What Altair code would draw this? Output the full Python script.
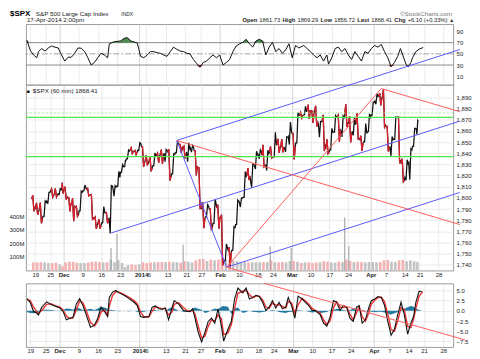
import json
import altair as alt
import pandas as pd

# ---------------- data ----------------
day_dates = [
    "2013-11-18", "2013-11-19", "2013-11-20", "2013-11-21", "2013-11-22", "2013-11-25", "2013-11-26", "2013-11-27", "2013-11-29",
    "2013-12-02", "2013-12-03", "2013-12-04", "2013-12-05", "2013-12-06", "2013-12-09", "2013-12-10", "2013-12-11", "2013-12-12",
    "2013-12-13", "2013-12-16", "2013-12-17", "2013-12-18", "2013-12-19", "2013-12-20", "2013-12-23", "2013-12-24", "2013-12-26",
    "2013-12-27", "2013-12-30", "2013-12-31",
    "2014-01-02", "2014-01-03", "2014-01-06", "2014-01-07", "2014-01-08", "2014-01-09", "2014-01-10", "2014-01-13", "2014-01-14",
    "2014-01-15", "2014-01-16", "2014-01-17", "2014-01-21", "2014-01-22", "2014-01-23", "2014-01-24", "2014-01-27", "2014-01-28",
    "2014-01-29", "2014-01-30", "2014-01-31",
    "2014-02-03", "2014-02-04", "2014-02-05", "2014-02-06", "2014-02-07", "2014-02-10", "2014-02-11", "2014-02-12", "2014-02-13",
    "2014-02-14", "2014-02-18", "2014-02-19", "2014-02-20", "2014-02-21", "2014-02-24", "2014-02-25", "2014-02-26", "2014-02-27",
    "2014-02-28",
    "2014-03-03", "2014-03-04", "2014-03-05", "2014-03-06", "2014-03-07", "2014-03-10", "2014-03-11", "2014-03-12", "2014-03-13",
    "2014-03-14", "2014-03-17", "2014-03-18", "2014-03-19", "2014-03-20", "2014-03-21", "2014-03-24", "2014-03-25", "2014-03-26",
    "2014-03-27", "2014-03-28", "2014-03-31",
    "2014-04-01", "2014-04-02", "2014-04-03", "2014-04-04", "2014-04-07", "2014-04-08", "2014-04-09", "2014-04-10", "2014-04-11",
    "2014-04-14", "2014-04-15", "2014-04-16", "2014-04-17",
]
half_days = ["2013-11-29", "2013-12-24"]
last_day_bars = 5

opens = [1798.8, 1790.8, 1789.6, 1783.5, 1797.0, 1806.3, 1802.9, 1803.5, 1808.0,
         1806.6, 1800.1, 1793.6, 1791.8, 1788.4, 1806.2, 1807.6, 1802.8, 1781.7, 1777.0, 1777.5, 1786.5, 1781.5, 1809.0, 1810.4,
         1822.9, 1828.0, 1834.9, 1842.9, 1841.5, 1842.6,
         1845.9, 1833.2, 1832.3, 1828.7, 1837.9, 1839.0, 1840.1, 1841.3, 1821.4, 1840.5, 1848.0, 1844.2, 1841.0, 1844.7, 1842.3,
         1827.0, 1791.0, 1783.0, 1790.2, 1777.2, 1790.9,
         1782.7, 1743.8, 1753.4, 1753.0, 1776.0, 1796.2, 1800.5, 1820.1, 1814.8, 1828.5, 1839.0, 1838.2, 1829.2, 1841.1, 1836.8,
         1847.7, 1845.8, 1844.9, 1855.1,
         1857.7, 1849.2, 1874.0, 1874.2, 1878.5, 1877.9, 1878.3, 1866.2, 1869.1, 1845.1, 1842.8, 1858.9, 1872.3, 1860.1, 1874.5,
         1867.7, 1859.5, 1867.1, 1852.1, 1850.1, 1859.2,
         1874.0, 1886.6, 1891.4, 1890.3, 1863.9, 1845.5, 1852.6, 1872.3, 1830.7, 1818.2, 1831.5, 1846.0, 1861.7]
highs = [1802.3, 1795.5, 1795.7, 1797.2, 1804.8, 1808.1, 1808.4, 1808.3, 1813.6,
         1810.0, 1800.1, 1799.8, 1792.6, 1806.0, 1811.5, 1808.5, 1803.0, 1782.9, 1780.9, 1792.2, 1786.8, 1811.1, 1810.9, 1823.8,
         1829.8, 1833.3, 1842.8, 1844.9, 1842.5, 1849.4,
         1845.9, 1838.2, 1837.2, 1840.1, 1840.0, 1843.2, 1843.4, 1843.5, 1839.3, 1850.8, 1848.0, 1846.0, 1849.3, 1846.9, 1842.3,
         1827.0, 1796.0, 1793.9, 1790.2, 1798.8, 1793.9,
         1784.8, 1758.7, 1755.8, 1774.1, 1798.0, 1799.9, 1823.5, 1826.6, 1830.3, 1841.7, 1842.9, 1847.5, 1842.8, 1846.1, 1858.7,
         1852.9, 1852.7, 1854.5, 1867.9,
         1857.7, 1876.2, 1876.5, 1881.9, 1883.6, 1877.9, 1882.4, 1868.4, 1874.4, 1852.4, 1862.3, 1873.8, 1874.1, 1873.5, 1884.0,
         1873.3, 1871.9, 1875.9, 1855.6, 1866.6, 1875.2,
         1885.8, 1893.2, 1893.8, 1897.3, 1864.0, 1855.0, 1872.4, 1872.5, 1835.1, 1834.2, 1844.0, 1862.3, 1869.3]
lows = [1788.0, 1784.7, 1777.2, 1783.5, 1794.7, 1800.6, 1800.8, 1802.8, 1803.9,
        1798.6, 1787.9, 1779.1, 1783.4, 1788.4, 1806.2, 1801.8, 1780.1, 1772.3, 1772.5, 1777.5, 1777.2, 1768.0, 1801.4, 1810.3,
        1822.9, 1828.0, 1834.9, 1839.8, 1838.8, 1842.4,
        1827.7, 1829.1, 1823.7, 1828.7, 1831.4, 1830.4, 1832.4, 1815.5, 1821.4, 1840.5, 1840.3, 1835.2, 1832.4, 1840.9, 1820.1,
        1790.3, 1772.9, 1783.0, 1771.0, 1777.2, 1772.3,
        1739.7, 1743.8, 1737.9, 1753.0, 1776.0, 1791.8, 1800.5, 1816.0, 1809.2, 1825.9, 1835.0, 1827.7, 1824.6, 1835.6, 1836.8,
        1840.2, 1840.7, 1841.1, 1847.7,
        1834.4, 1849.2, 1871.6, 1874.2, 1870.6, 1867.0, 1863.9, 1854.4, 1841.9, 1839.6, 1842.8, 1858.9, 1850.3, 1854.6, 1863.5,
        1849.7, 1856.0, 1852.6, 1842.1, 1850.1, 1859.2,
        1874.0, 1883.8, 1882.7, 1863.3, 1841.5, 1837.5, 1852.4, 1831.9, 1814.4, 1815.8, 1816.3, 1846.0, 1856.7]
closes = [1791.5, 1787.9, 1781.4, 1795.9, 1804.8, 1802.5, 1802.8, 1807.2, 1805.8,
          1800.9, 1795.2, 1792.3, 1785.0, 1805.1, 1808.4, 1802.6, 1782.2, 1775.5, 1775.3, 1786.5, 1781.0, 1810.7, 1809.6, 1818.3,
          1827.9, 1833.3, 1842.0, 1841.4, 1841.1, 1848.4,
          1832.0, 1831.4, 1826.8, 1837.9, 1837.5, 1838.1, 1842.4, 1819.2, 1838.9, 1848.4, 1845.9, 1838.7, 1843.8, 1844.9, 1828.5,
          1790.3, 1781.6, 1792.5, 1774.2, 1794.2, 1782.6,
          1741.9, 1755.2, 1751.6, 1773.4, 1797.0, 1799.8, 1819.3, 1819.3, 1829.8, 1838.6, 1840.8, 1828.8, 1839.8, 1836.3, 1847.6,
          1845.1, 1845.2, 1854.3, 1859.5,
          1845.7, 1873.9, 1873.8, 1877.0, 1878.0, 1877.2, 1867.6, 1868.2, 1846.3, 1841.1, 1858.8, 1872.3, 1860.8, 1872.0, 1866.5,
          1857.4, 1865.6, 1852.6, 1849.0, 1857.6, 1872.3,
          1885.5, 1890.9, 1888.8, 1865.1, 1845.0, 1852.0, 1872.2, 1833.1, 1815.7, 1830.6, 1843.0, 1862.3, 1868.4]
# typical hourly volume (millions) per session
volume_m = [60, 60, 62, 60, 55, 55, 58, 45, 30,
            60, 65, 65, 58, 55, 55, 58, 65, 65, 62, 60, 60, 80, 62, 75, 55, 25, 40, 45, 40, 45,
            60, 55, 60, 60, 62, 62, 62, 65, 62, 62, 58, 70, 65, 60, 75, 85, 85, 70, 80, 75, 80,
            90, 80, 80, 72, 70, 62, 65, 60, 60, 60, 62, 62, 62, 75, 62, 60, 62, 60, 68,
            70, 65, 55, 60, 60, 55, 60, 60, 68, 65, 60, 58, 65, 62, 80, 70, 62, 65, 62, 60, 62,
            62, 60, 62, 75, 78, 65, 62, 75, 78, 68, 75, 68, 62]
spike_pos = [141, 152, 275, 437, 476, 575.5, 583]
spike_m = [166, 273, 190, 180, 166, 393, 180]

rsi_pos = [-6.3, -0.3, 5.7, 11.7, 14.7, 20.6, 26.6, 32.6, 38.6, 44.6, 50.6, 56.6, 62.5, 68.5, 74.5, 80.5, 86.5, 92.5,
           98.5, 104.5, 110.4, 116.4, 122.4, 128.4, 134.4, 140.4, 143.4, 152.3, 164.3, 170.3, 176.3, 182.3, 194.2,
           200.2, 206.2, 212.2, 218.2, 224.2, 230.2, 236.2, 242.1, 248.1, 254.1, 260.1, 266.1, 272.1, 278.1, 284.0,
           290.0, 296.0, 302.0, 308.0, 314.0, 320.0, 326.0, 331.9, 337.9, 343.9, 349.9, 355.9, 361.9, 367.9, 373.8,
           379.8, 385.8, 391.8, 397.8, 403.8, 409.8, 415.8, 421.8, 427.7, 433.7, 439.7, 445.7, 451.7, 457.7, 463.7,
           469.6, 475.6, 481.6, 487.6, 496.6, 502.6, 508.6, 514.5, 520.5, 526.5, 532.5, 538.5, 541.5, 547.5, 553.5,
           559.4, 565.4, 571.4, 577.4, 583.4, 589.4, 595.4, 601.4, 607.3, 613.3, 619.3, 625.3, 631.3, 637.3, 643.3,
           649.2, 655.2, 661.2, 667.2, 672.0, 676.2, 682.2, 686.4, 691.1, 694.1, 700.1, 706.1, 712.1, 713.0]
rsi_val = [74.5, 56.7, 48, 43, 54, 59.5, 55, 60.5, 64, 62, 60.5, 48, 37, 44, 44, 51, 60.5, 60,
           54, 43, 30, 34.5, 43, 51, 48, 43, 67.8, 71.7, 73, 77.8, 79, 73, 69.5,
           45.5, 43, 48, 54, 54, 52, 51, 48, 45.5, 54, 62, 58, 55, 54, 51,
           50, 40, 33, 26, 34.5, 37, 43, 48, 43, 48, 30, 34.5, 40, 54, 64,
           67.8, 70.5, 76, 68, 62, 73, 76, 73, 48, 62, 70.5, 54, 59.5, 51, 57,
           68, 43, 65, 60.5, 65, 59.5, 54, 48, 43, 48, 37, 48, 31.7, 43, 59.5,
           62, 54, 59.5, 48, 40, 54, 45.5, 37, 54, 51, 59.5, 65, 62, 66.7, 54,
           43, 27, 34.5, 45.5, 59.5, 48, 31.7, 27, 34.5, 43, 54, 58.5, 60.5, 62]

macd_pos = [-6.3, -0.3, 5.7, 11.7, 14.7, 20.6, 29.6, 38.6, 44.6, 53.6,
            59.6, 65.5, 71.5, 77.5, 83.5, 89.5, 95.5, 101.5, 109.2, 116.4,
            122.4, 128.4, 134.4, 140.4, 143.4, 149.4, 155.3, 161.3, 170.3, 179.3,
            188.3, 194.2, 200.2, 206.2, 215.2, 221.2, 227.2, 233.2, 239.2, 245.1,
            251.1, 257.1, 261.3, 269.1, 278.1, 284.0, 290.0, 294.8, 299.0, 305.0,
            311.0, 317.0, 323.0, 329.0, 334.9, 340.9, 346.9, 351.1, 358.9, 364.9,
            370.9, 376.9, 385.8, 391.8, 397.8, 403.8, 409.8, 415.8, 421.8, 427.7,
            433.7, 439.7, 445.7, 451.7, 457.7, 463.7, 468.4, 474.4, 480.4, 486.4,
            493.6, 499.6, 505.6, 511.6, 517.5, 526.5, 532.5, 538.5, 544.5, 550.5,
            556.5, 562.4, 568.4, 574.4, 580.4, 586.4, 592.4, 597.2, 602.6, 608.5,
            614.5, 619.3, 625.3, 631.3, 637.3, 643.3, 649.2, 655.2, 661.2, 667.2,
            673.2, 679.2, 685.2, 691.1, 696.0, 700.1, 706.1, 712.1]
macd_val = [3.0, 2.1, -0.1, -0.6, -1.0, 0.9, 2.2, 1.5, 1.2, 0.7,
            -0.2, -2.2, -1.8, -1.6, 1.7, 3.0, 1.3, -1.0, -4.0, -3.5,
            -1.8, 0.9, -0.1, -1.4, 3.3, 4.6, 5.0, 4.4, 3.8, 3.0,
            2.1, 1.3, -1.4, -1.6, -1.4, 0.9, 1.2, 0.5, 0.4, 0.7,
            -2.2, 0.7, 2.5, 1.7, 0.1, -0.1, -0.2, 0.5, -1.8, -5.3,
            -7.6, -5.3, -2.6, -1.8, -3.0, 0.5, -3.7, -7.4, -4.5, -2.6,
            2.9, 5.6, 4.4, 5.6, 2.9, 3.3, 3.8, 3.5, 2.1, 0.1,
            0.9, 2.5, 0.7, 2.1, 0.5, 0.9, 3.3, 1.3, -1.8, 3.6,
            2.9, 2.1, 1.3, 0.1, 0.1, -1.0, -3.0, -3.7, -1.4, 2.5,
            2.1, 0.1, 1.3, 0.9, -1.8, -2.6, 0.9, 1.3, -3.0, -2.2,
            0.7, 2.5, 2.9, 3.5, 3.3, 1.3, -2.6, -6.0, -4.5, -1.0,
            2.1, -1.0, -5.7, -3.0, -1.4, 2.1, 4.8, 4.6]
signal_val = [2.8, 2.5, 1.0, -0.2, -0.6, 0.1, 1.6, 1.7, 1.3, 0.9,
              0.2, -1.3, -1.9, -1.7, 0.2, 2.4, 2.0, 0.0, -2.8, -3.7,
              -2.6, -0.3, 0.2, -0.9, 1.2, 3.8, 4.7, 4.6, 4.0, 3.3,
              2.5, 1.7, -0.3, -1.4, -1.5, -0.1, 1.0, 0.8, 0.5, 0.6,
              -1.0, -0.3, 1.6, 2.0, 0.8, 0.1, -0.1, 0.2, -0.8, -3.8,
              -6.6, -6.2, -3.8, -2.2, -2.5, -1.0, -1.9, -5.8, -5.4, -3.4,
              0.6, 4.3, 4.8, 5.0, 4.0, 3.2, 3.6, 3.6, 2.7, 1.0,
              0.6, 1.9, 1.4, 1.5, 1.1, 0.7, 2.3, 1.9, -0.6, 1.5,
              3.1, 2.4, 1.7, 0.6, 0.1, -0.6, -2.2, -3.4, -2.4, 0.8,
              2.2, 0.9, 0.8, 1.0, -0.8, -2.2, -0.5, 1.0, -1.4, -2.5,
              -0.6, 1.7, 2.6, 3.2, 3.4, 2.2, -0.8, -4.6, -5.0, -2.5,
              0.8, 0.3, -3.8, -4.1, -2.0, 0.6, 3.6, 4.6]
hist_val = [-0.3, -0.5, -0.6, -0.4, -0.2, 0.3, 0.3, 0.2, 0.1, 0.1,
            0.2, 0.6, 0.5, 0.3, 0.8, 0.6, 0.2, 0.3, 0.5, 0.2,
            0.6, 1.0, 0.8, 0.5, 0.3, 0.2, 0.1, -0.1, 0.1, -0.1,
            0.1, -0.2, -0.3, -0.2, 0.1, 0.3, 0.2, 0.1, 0.1, -0.1,
            0.5, 0.9, 0.6, 0.1, -0.2, -0.3, -0.1, 0.6, 0.8, 0.5,
            0.3, -0.5, -0.3, 0.2, 0.6, 0.4, 1.0, 1.2, 1.0, -0.8,
            0.6, 0.8, -0.5, -0.3, 0.1, -0.2, -0.3, -0.4, -0.3, -0.1,
            0.1, 0.2, 0.1, -0.3, -0.4, -0.5, -0.3, -0.2, -0.1, 0.2,
            0.1, 0.0, -0.2, -0.4, -0.3, -0.5, -0.4, -0.3, 0.2, 0.3,
            0.5, 0.4, 0.2, 0.1, 0.2, 0.6, 0.5, 0.3, 0.2, 0.1,
            0.0, -0.2, -0.3, -0.2, -0.2, -0.4, -0.7, -0.9, -0.6, -0.3,
            0.2, 0.5, 0.9, 1.2, 1.0, 0.6, 0.2, 0.0]

# axis ticks (position in hourly bars since 19-Nov open)
tick_pos = [0, 28, 53, 88, 123, 158, 197, 211, 246, 281, 309, 344, 379, 414, 442, 477, 512, 547, 582, 624, 652, 687, 715, 750]
tick_text = ["19", "25", "Dec", "9", "16", "23", "2014", "6", "13", "21", "27", "Feb", "10", "18", "24", "Mar", "10", "17",
             "24", "Apr", "7", "14", "21", "28"]
month_ticks = [53, 197, 344, 477, 624]
price_ticks = [1740, 1750, 1760, 1770, 1780, 1790, 1800, 1810, 1820, 1830, 1840, 1850, 1860, 1870, 1880, 1890]
rsi_ticks = [10, 30, 50, 70, 90]
macd_ticks = [5.0, 2.5, 0.0, -2.5, -5.0, -7.5]
vol_ticks = [100, 200, 300, 400]

green_levels = [1872, 1837]
green_dashed_levels = [1876]

# trend lines on the price panel: (bar position, price) end points
tl_id = ["b1", "b2", "b3", "b4", "rA", "rB", "rC", "rD"]
tl_color = ["#5a5aff", "#5a5aff", "#5a5aff", "#5a5aff", "#ff5e5e", "#ff5e5e", "#ff5e5e", "#ff5e5e"]
tl_x1 = [263.1, 141.5, 356.0, 263.1, 356.0, 263.1, 643.3, 356.0]
tl_p1 = [1851.4, 1768.6, 1737.9, 1851.4, 1737.9, 1851.4, 1897.9, 1737.9]
tl_x2 = [789.3, 789.3, 789.3, 356.0, 643.3, 789.3, 789.3, 422.0]
tl_p2 = [1932.8, 1868.7, 1804.8, 1737.9, 1897.9, 1776.1, 1877.2, 1728.5]
# continuation of the lower red fork line across the lower panel: (bar position, value)
rd_x = [424.8, 789.3]
rd_v = [6.74, -7.1]

# ---------------- tables ----------------
bars = [4 if d in half_days else 7 for d in day_dates]
bars[-1] = last_day_bars
starts = []
s = -7
for n in bars:
    starts.append(s)
    s += n

path_rows = []
vol_rows = []
for i, (st, n, o, h, l, c, v) in enumerate(zip(starts, bars, opens, highs, lows, closes, volume_m)):
    up = c >= o
    m1, m2 = (l, h) if up else (h, l)
    for pos, val in ((st + 0.5, o), (st + n * 0.35, m1), (st + n * 0.65, m2), (st + n - 0.5, c)):
        path_rows.append({"pos": pos, "p": val, "day": i, "down": (not up), "ord": len(path_rows)})
    vol_rows.append({"pos": st + n / 2.0, "vol": v, "col": "#b8b8b8" if up else "#f2a3a3"})
path_df = pd.DataFrame(path_rows)
vol_df = pd.DataFrame(vol_rows)
spike_df = pd.DataFrame({"pos": spike_pos, "vol": spike_m})
rsi_df = pd.DataFrame({"pos": rsi_pos, "v": rsi_val})
macd_df = pd.DataFrame({"pos": macd_pos, "m": macd_val, "s": signal_val, "h": hist_val})
tl_rows = []
for k in range(len(tl_id)):
    tl_rows.append({"id": tl_id[k], "col": tl_color[k], "pos": tl_x1[k], "p": tl_p1[k]})
    tl_rows.append({"id": tl_id[k], "col": tl_color[k], "pos": tl_x2[k], "p": tl_p2[k]})
tl_df = pd.DataFrame(tl_rows)
rd_df = pd.DataFrame({"pos": rd_x, "m": rd_v})

# ---------------- styling ----------------
W = 430
FONT = "Liberation Sans"
xs = alt.Scale(domain=[-8.1, 767.8], nice=False, zero=False)
month_test = "indexof(%s, datum.value) >= 0" % json.dumps(month_ticks)
grid_col = {"condition": {"test": month_test, "value": "#c4c4c4"}, "value": "#e2e2e2"}
label_expr = "%s[indexof(%s, datum.value)]" % (json.dumps(tick_text), json.dumps(tick_pos))


def xaxis(show):
    return alt.Axis(values=tick_pos, labels=show, labelExpr=label_expr, labelFontSize=6,
                    labelFontWeight={"condition": {"test": month_test, "value": "bold"}, "value": "normal"},
                    ticks=False, domain=False, grid=True, gridColor=grid_col, gridWidth=0.7,
                    labelPadding=1, labelOverlap=False, labelFlush=False, labelBound=False, title=None)


def X(show):
    return alt.X("pos:Q", scale=xs, axis=xaxis(show))


def txt(s, x, y, size=6.0, weight="normal", color="#222222", align="left"):
    return alt.Chart(pd.DataFrame({"t": [s]})).mark_text(
        align=align, baseline="alphabetic", fontSize=size, fontWeight=weight, color=color, font=FONT
    ).encode(x=alt.value(x), y=alt.value(y), text="t:N")


# ---------------- RSI panel ----------------
rsi_scale = alt.Scale(domain=[-5.0, 103.3], nice=False, zero=False)
rsi_axis = alt.Axis(orient="right", values=rsi_ticks, labelFontSize=6, ticks=False, domain=False, grid=False,
                    labelPadding=3, title=None)


def Yr(f):
    return alt.Y(f, scale=rsi_scale, axis=rsi_axis)


rsi_lines = alt.Chart(pd.DataFrame({"v": [70, 30]})).mark_rule(color="#8a8a8a", strokeWidth=1).encode(y=Yr("v:Q"))
rsi_mid = alt.Chart(pd.DataFrame({"v": [50]})).mark_rule(color="#8a8a8a", strokeWidth=0.8,
                                                         strokeDash=[6, 2, 2, 2]).encode(y=Yr("v:Q"))
rsi_hi = alt.Chart(rsi_df).transform_calculate(top="max(datum.v, 70)").mark_area(color="#4f8a4f").encode(
    x=X(False), y=Yr("top:Q"), y2=alt.datum(70))
rsi_lo = alt.Chart(rsi_df).transform_calculate(bot="min(datum.v, 30)").mark_area(color="#a52a2a").encode(
    x=X(False), y=Yr("bot:Q"), y2=alt.datum(30))
rsi_line = alt.Chart(rsi_df).mark_line(color="#111111", strokeWidth=1).encode(x=X(False), y=Yr("v:Q"))

header = [
    txt("$SPX", -16, -8, 8, "bold", "#000000"),
    txt("S&P 500 Large Cap Index", 10, -8, 6.3),
    txt("INDX", 96, -8, 5, "normal"),
    txt("\u00a9StockCharts.com", 429, -8, 6.3, "normal", "#777777", "right"),
    txt("17-Apr-2014 2:00pm", 1, -2, 6.3),
    txt("Open", 218, -2, 5.8, "bold"), txt("1861.73", 235, -2, 5.8),
    txt("High", 258.2, -2, 5.8, "bold"), txt("1869.29", 273.3, -2, 5.8),
    txt("Low", 296.5, -2, 5.8, "bold"), txt("1856.72", 310.3, -2, 5.8),
    txt("Last", 333.5, -2, 5.8, "bold"), txt("1868.41", 347.6, -2, 5.8),
    txt("Chg", 370.8, -2, 5.8, "bold"), txt("+6.10 (+0.33%)", 384.3, -2, 5.8),
    txt("\u25b2", 426, -2, 5),
]

rsi_panel = alt.layer(rsi_lines, rsi_mid, rsi_hi, rsi_lo, rsi_line, *header).properties(width=W, height=61)

# ---------------- price panel ----------------
vol_scale = alt.Scale(domain=[0, 1378.6], nice=False, zero=True)
vol_axis = alt.Axis(orient="left", values=vol_ticks, labelExpr="datum.value + 'M'", labelFontSize=6, ticks=False,
                    domain=False, grid=False, labelPadding=2, title=None)
vol_bars = alt.Chart(vol_df).mark_bar(size=2.6, opacity=0.85).encode(
    x=X(True), y=alt.Y("vol:Q", scale=vol_scale, axis=vol_axis), color=alt.Color("col:N", scale=None))
vol_spikes = alt.Chart(spike_df).mark_bar(size=1.2, color="#a8a8a8").encode(
    x=X(True), y=alt.Y("vol:Q", scale=vol_scale, axis=vol_axis))
vol_layer = alt.layer(vol_bars, vol_spikes)

p_scale = alt.Scale(domain=[1735.0, 1901.4], nice=False, zero=False)
p_axis = alt.Axis(orient="right", values=price_ticks, labelFontSize=6, ticks=False, domain=False, grid=True,
                  gridColor="#e2e2e2", gridWidth=0.7, labelPadding=3, title=None)


def Yp(f):
    return alt.Y(f, scale=p_scale, axis=p_axis)


price_black = alt.Chart(path_df).mark_line(color="#111111", strokeWidth=1.25).encode(
    x=X(True), y=Yp("p:Q"), order="ord:Q")
price_red = alt.Chart(path_df).transform_filter("datum.down").mark_line(color="#e01f2d", strokeWidth=1.25).encode(
    x=X(True), y=Yp("p:Q"), detail="day:N", order="ord:Q")
green = alt.Chart(pd.DataFrame({"p": green_levels})).mark_rule(color="#4be64b", strokeWidth=1.3).encode(y=Yp("p:Q"))
green_d = alt.Chart(pd.DataFrame({"p": green_dashed_levels})).mark_rule(
    color="#8fe68f", strokeWidth=0.8, strokeDash=[2, 2]).encode(y=Yp("p:Q"))
trend = alt.Chart(tl_df).mark_line(clip=False, strokeWidth=1).encode(
    x=X(True), y=Yp("p:Q"), detail="id:N", color=alt.Color("col:N", scale=None))
legend_icon = txt("\u25a0", 1, 8, 5, "normal", "#000000")
legend_txt = txt("$SPX (60 min) 1868.41", 7, 8, 6.3)

price_layer = alt.layer(price_black, price_red, green, green_d, trend, legend_icon, legend_txt)
price_panel = alt.layer(vol_layer, price_layer).resolve_scale(y="independent").properties(width=W, height=187)

# ---------------- lower (MACD) panel ----------------
m_scale = alt.Scale(domain=[-8.84, 6.74], nice=False, zero=False)
m_axis = alt.Axis(orient="right", values=macd_ticks, format=".1f", labelFontSize=6, ticks=False, domain=False,
                  grid=True, gridColor="#e2e2e2", gridWidth=0.7, labelPadding=3, title=None)


def Ym(f):
    return alt.Y(f, scale=m_scale, axis=m_axis)


hist = alt.Chart(macd_df).mark_area(color="#23799e").encode(x=X(True), y=Ym("h:Q"), y2=alt.datum(0))
sig = alt.Chart(macd_df).mark_line(color="#ee3333", strokeWidth=1.4).encode(x=X(True), y=Ym("s:Q"))
mac = alt.Chart(macd_df).mark_line(color="#111111", strokeWidth=1.1).encode(x=X(True), y=Ym("m:Q"))
rd_line = alt.Chart(rd_df).mark_line(clip=False, color="#ff5e5e", strokeWidth=1).encode(x=X(True), y=Ym("m:Q"))
macd_panel = alt.layer(hist, sig, mac, rd_line).properties(width=W, height=64)

top = alt.vconcat(rsi_panel, price_panel, spacing=0, bounds="flush")
chart = alt.vconcat(top, macd_panel, spacing=0).properties(
    padding={"left": 0, "top": 0, "right": 0, "bottom": 0}
).configure(font=FONT).configure_view(stroke="#9c9c9c", strokeWidth=1).configure_axis(
    labelFont=FONT, labelColor="#222222")

chart.save("out.html", embed_options={"renderer": "svg", "actions": False})
